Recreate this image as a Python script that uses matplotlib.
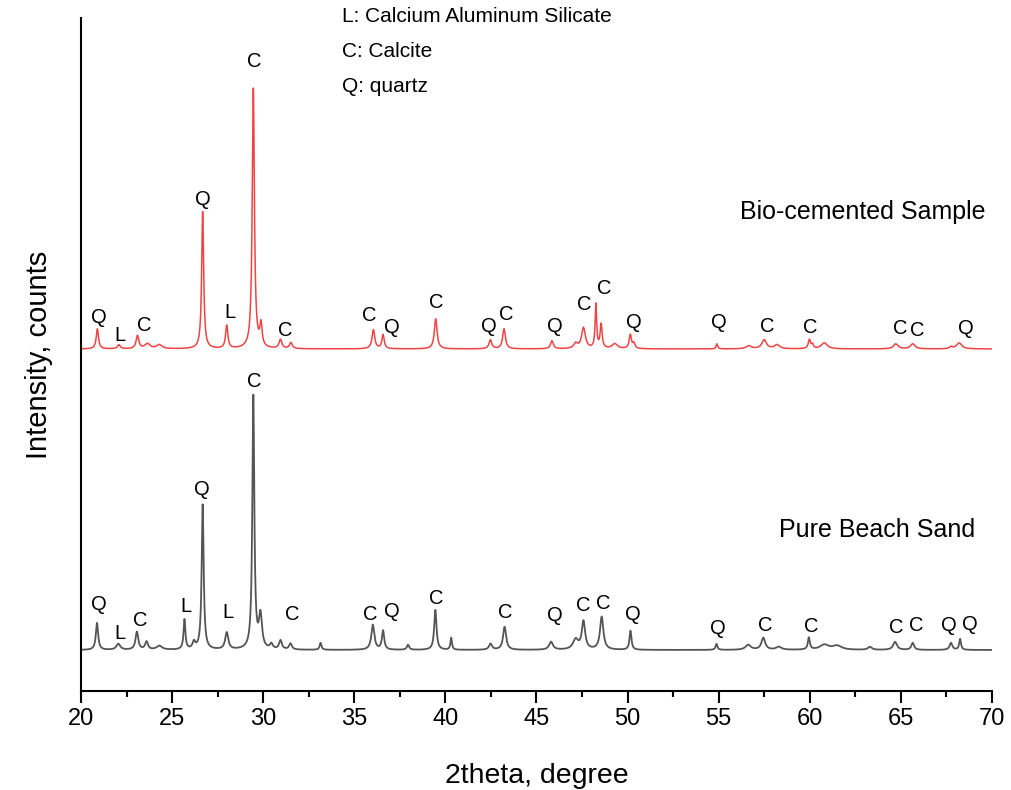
import numpy as np
import matplotlib
matplotlib.use("Agg")
import matplotlib.pyplot as plt

plt.rcParams['font.family'] = ['Liberation Sans', 'DejaVu Sans']

# ---------------- data ----------------
# Bio-cemented sample: peak centres (2theta), heights (counts above baseline), FWHM (deg)
bio_pos = [20.90, 22.08, 23.10, 23.65, 24.30, 26.68, 28.00, 29.46, 29.88, 30.95,
           31.52, 36.05, 36.58, 39.47, 42.47, 43.22, 45.85, 47.15, 47.58, 48.26,
           48.55, 49.30, 50.15, 50.35, 54.90, 56.65, 57.50, 58.20, 59.98, 60.15,
           60.80, 64.72, 65.65, 67.75, 68.20]
bio_hgt = [20, 4, 13, 5, 4, 137, 23, 260, 22, 9,
           6, 19, 14, 30, 9, 20, 8, 5, 21, 44,
           24, 5, 14, 5, 5, 3, 9, 4, 9, 4,
           6, 5, 5, 2, 6]
bio_fwhm = [0.15, 0.18, 0.18, 0.35, 0.35, 0.13, 0.15, 0.14, 0.15, 0.18,
            0.18, 0.18, 0.15, 0.18, 0.18, 0.18, 0.18, 0.25, 0.25, 0.10,
            0.13, 0.35, 0.15, 0.15, 0.10, 0.35, 0.30, 0.35, 0.15, 0.12,
            0.40, 0.30, 0.30, 0.18, 0.35]
bio_base = 342

# Pure beach sand
sand_pos = [20.88, 22.05, 23.07, 23.60, 24.30, 25.68, 26.20, 26.68, 28.00, 29.46,
            29.85, 30.45, 30.95, 31.50, 33.15, 36.02, 36.58, 37.95, 39.45, 40.32,
            42.48, 43.25, 45.80, 47.15, 47.58, 48.58, 50.16, 54.88, 56.62, 57.45,
            58.30, 59.95, 60.80, 61.50, 63.30, 64.68, 65.65, 67.75, 68.25]
sand_hgt = [27, 6, 18, 8, 4, 30, 7, 145, 17, 253,
            33, 5, 9, 6, 7, 25, 19, 5, 40, 12,
            6, 23, 8, 10, 28, 33, 19, 6, 5, 12,
            3, 12, 5, 4, 3, 8, 7, 7, 11]
sand_fwhm = [0.15, 0.25, 0.18, 0.18, 0.35, 0.12, 0.18, 0.13, 0.20, 0.13,
             0.20, 0.18, 0.18, 0.18, 0.12, 0.20, 0.15, 0.15, 0.15, 0.10,
             0.20, 0.20, 0.25, 0.35, 0.22, 0.22, 0.13, 0.12, 0.35, 0.25,
             0.35, 0.13, 0.60, 0.60, 0.25, 0.25, 0.18, 0.18, 0.12]
sand_base = 41

# phase labels: (2theta, intensity, letter)
bio_lbl_x = [21.00, 22.14, 23.46, 26.70, 28.18, 29.49, 31.23, 35.82, 37.08, 39.52,
             42.41, 43.36, 46.02, 47.64, 48.70, 50.35, 55.03, 57.66, 60.05, 64.95,
             65.90, 68.57]
bio_lbl_y = [373, 355, 365, 491, 378, 629, 360, 375, 363, 388,
             364, 376, 364, 386, 402, 368, 368, 364, 363, 362,
             360, 362]
bio_lbl_t = ['Q', 'L', 'C', 'Q', 'L', 'C', 'C', 'C', 'Q', 'C',
             'Q', 'C', 'Q', 'C', 'C', 'Q', 'Q', 'C', 'C', 'C',
             'C', 'Q']

sand_lbl_x = [20.99, 22.14, 23.24, 25.76, 28.08, 31.62, 35.90, 37.05, 39.52, 43.27,
              46.01, 47.57, 48.67, 50.28, 54.98, 57.54, 60.07, 64.77, 65.86, 67.66,
              68.79, 26.63, 29.49]
sand_lbl_y = [87, 58, 71, 85, 79, 77, 77, 80, 93, 79,
              76, 86, 88, 77, 63, 66, 65, 64, 66, 66,
              67, 201, 309]
sand_lbl_t = ['Q', 'L', 'C', 'L', 'L', 'C', 'C', 'Q', 'C', 'C',
              'Q', 'C', 'C', 'Q', 'Q', 'C', 'C', 'C', 'C', 'Q',
              'Q', 'Q', 'C']

legend_lines = ['L: Calcium Aluminum Silicate', 'C: Calcite', 'Q: quartz']
series_names = ['Bio-cemented Sample', 'Pure Beach Sand']
x_ticks = [20, 25, 30, 35, 40, 45, 50, 55, 60, 65, 70]


def profile(x, pos, hgt, fwhm, base):
    y = np.full_like(x, float(base))
    for p, h, w in zip(pos, hgt, fwhm):
        g = (w / 2) ** 2
        y += h * g / ((x - p) ** 2 + g)
    return y


tt = np.arange(20.0, 70.0001, 0.01)
bio_y = profile(tt, bio_pos, bio_hgt, bio_fwhm, bio_base)
sand_y = profile(tt, sand_pos, sand_hgt, sand_fwhm, sand_base)

# ---------------- figure ----------------
fig = plt.figure(figsize=(10.12, 7.90), dpi=100)
ax = fig.add_axes([0.0800, 0.1253, 0.9002, 0.8520])

red = '#F04444'
grey = '#555555'
ax.plot(tt, bio_y, color=red, lw=1.1)
ax.plot(tt, sand_y, color=grey, lw=1.3)

for x, y, t in zip(bio_lbl_x, bio_lbl_y, bio_lbl_t):
    ax.text(x, y, t, ha='center', va='center', fontsize=14.5, color='black')
for x, y, t in zip(sand_lbl_x, sand_lbl_y, sand_lbl_t):
    ax.text(x, y, t, ha='center', va='center', fontsize=14.5, color='black')

ax.text(62.92, 479, series_names[0], ha='center', va='center', fontsize=18)
ax.text(63.69, 161, series_names[1], ha='center', va='center', fontsize=18)

for i, s in enumerate(legend_lines):
    fig.text(342 / 1012, 1 - (17 + 34.5 * i) / 790, s, ha='left', va='center', fontsize=15)

ax.set_xlim(20, 70)
ax.set_ylim(0, 673)
ax.set_xticks(x_ticks)
ax.set_xticks(np.arange(22.5, 70, 5), minor=True)
ax.set_yticks([])
for s in ['top', 'right']:
    ax.spines[s].set_visible(False)
for s in ['left', 'bottom']:
    ax.spines[s].set_linewidth(1.5)
ax.tick_params(axis='x', which='major', direction='out', length=8.5, width=1.5,
               labelsize=17, pad=4)
ax.tick_params(axis='x', which='minor', direction='out', length=4.3, width=1.5)
ax.set_xlabel('2theta, degree', fontsize=20.5, labelpad=23.5)
ax.set_ylabel('Intensity, counts', fontsize=21, labelpad=20)

fig.savefig('out.png', dpi=100)
